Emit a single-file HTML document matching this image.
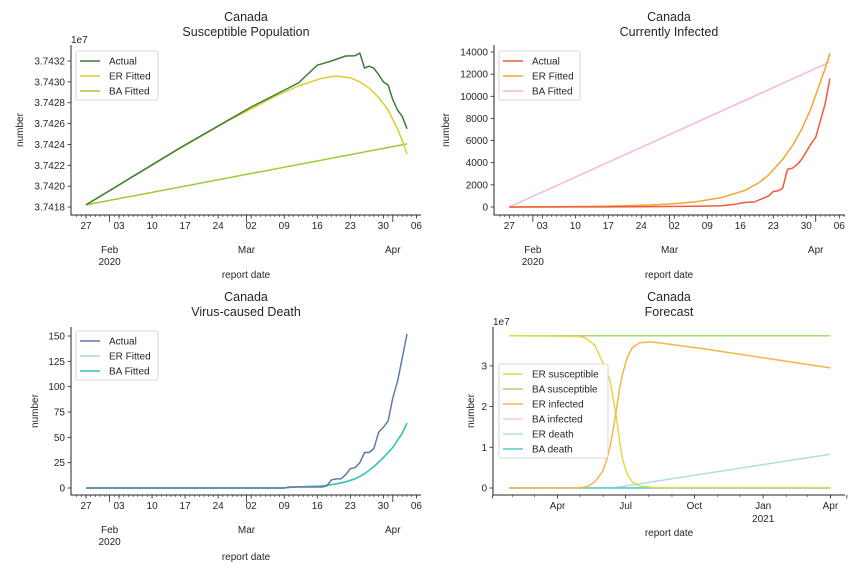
<!DOCTYPE html>
<html><head><meta charset="utf-8">
<style>
body{margin:0;background:#fff;}
svg{display:block;font-family:"Liberation Sans","DejaVu Sans",sans-serif;}
</style></head>
<body>
<svg id="fig" width="864" height="576" xmlns="http://www.w3.org/2000/svg"></svg>
<script>
// ---------- data (day index from 2020-01-27) ----------
const suscActualDays = [0,10,20,35,45,49,52,55,57,58,59,60,61,62,63,64,65,66,67,68];
const suscActual = [37418200,37420950,37423700,37427590,37429890,37431600,37432000,37432480,37432500,37432770,37431330,37431500,37431300,37430700,37430000,37429700,37428300,37427300,37426700,37425500];
const suscERDays = [0,10,20,30,35,40,45,50,53,56,58,60,62,64,66,67,68];
const suscER = [37418200,37420950,37423650,37426250,37427400,37428600,37429600,37430350,37430560,37430400,37430000,37429400,37428500,37427300,37425500,37424400,37423080];
const suscBADays = [0,68];
const suscBA = [37418200,37424050];

const infActualDays = [0,20,40,45,48,50,52,53,54,55,56,57,58,59,60,61,62,63,64,65,66,67,68];
const infActual = [0,10,60,120,250,420,450,650,800,1000,1400,1450,1700,3400,3500,3800,4300,5000,5700,6300,7800,9300,11600];
const infERDays = [0,10,20,30,35,40,45,50,53,55,58,60,62,64,66,67,68];
const infER = [0,20,60,180,300,500,850,1500,2200,2900,4300,5500,7000,8900,11300,12500,13900];
const infBADays = [0,68];
const infBA = [0,13100];

const deathActualDays = [0,42,43,50,51,52,53,54,55,56,57,58,59,60,61,62,63,64,65,66,67,68];
const deathActual = [0,0,1,1,2,8,9,9,13,19,20,25,35,35,39,55,60,66,89,105,128,152];
const deathERDays = [0,42,44,50,53,55,57,59,61,63,65,67,68];
const deathER = [0,0,1,2,4,6,9,14,21,30,40,54,64];
const deathBADays = deathERDays;
const deathBA = [0,0,1,2,4,6,9,14,21,30,40,54,64];

// forecast values in millions
const fcDays = [0,90,100,105,115,125,131,135,140,144,148,152,158,165,175,190,200,260,340,430];
const fcERSusc = [37.4,37.3,37.0,36.5,35.0,31.0,28.3,26.5,21.5,17.0,11.5,7.0,3.5,1.5,0.5,0.2,0.1,0.1,0.1,0.1];
const fcERInf = [0,0.05,0.2,0.4,1.5,4.0,7.0,10.0,15.0,19.5,24.5,28.0,32.0,34.5,35.7,35.9,35.7,34.2,32.0,29.5];
const fcERDeathDays = [0,140,430];
const fcERDeath = [0,0.05,8.3];
const fcFlatDays = [0,430];
const fcBASusc = [37.4,37.4];
const fcBAInf = [0.05,0.05];
const fcBADeath = [0,0];

const yTicks1 = [37418000,37420000,37422000,37424000,37426000,37428000,37430000,37432000];
const yTickLabels1 = ["3.7418","3.7420","3.7422","3.7424","3.7426","3.7428","3.7430","3.7432"];
const yTicks2 = [0,2000,4000,6000,8000,10000,12000,14000];
const yTicks3 = [0,25,50,75,100,125,150];
const yTicks4 = [0,10,20,30];
const yTickLabels4 = ["0","1","2","3"];
const weekDays = [0,7,14,21,28,35,42,49,56,63,70];
const weekLabels = ["27","03","10","17","24","02","09","16","23","30","06"];
const monthDays = [5,34,65];
const monthLabels = ["Feb","Mar","Apr"];
const fcMonthDays = [65,156,248,340,430];
const fcMonthLabels = ["Apr","Jul","Oct","Jan","Apr"];
const fcAllMonthDays = [5,34,65,95,126,156,187,218,248,279,309,340,371,399,430];

// ---------- drawing ----------
const NS="http://www.w3.org/2000/svg";
const fig=document.getElementById('fig');
function el(tag,attrs,parent){const e=document.createElementNS(NS,tag);for(const k in attrs)e.setAttribute(k,attrs[k]);(parent||fig).appendChild(e);return e;}
function txt(x,y,s,size,anchor,parent,extra){const t=el('text',Object.assign({x:x,y:y,'font-size':size,'text-anchor':anchor||'middle',fill:'#262626'},extra||{}),parent);t.textContent=s;return t;}

function panel(cfg){
  const g=el('g',{});
  
  
  const X=d=>cfg.x0+d*cfg.dx;
  const Y=v=>cfg.y0-(v-cfg.v0)*cfg.dy;
  const t1=txt(cfg.cx,21+cfg.oy,"Canada",12.5,'middle',g);
  
  const t2=txt(cfg.cx,36+cfg.oy,cfg.title,12.5,'middle',g);
  
  const sp=el('path',{d:`M${cfg.L},${cfg.T}V${cfg.B}H${cfg.R}`,stroke:'#262626','stroke-width':1,fill:'none'},g);
  
  cfg.yTicks.forEach((v,i)=>{
    const y=Y(v);
    el('line',{x1:cfg.L-3.5,x2:cfg.L,y1:y,y2:y,stroke:'#262626','stroke-width':0.8},g);
    const lb=txt(cfg.L-6,y+3.5,cfg.yLabels?cfg.yLabels[i]:String(v),10,'end',g);
    
  });
  if(cfg.exp){const e=txt(cfg.L,cfg.T-2,"1e7",10,'start',g);}
  const yl=txt(0,0,"number",10,'middle',g,{transform:`translate(${cfg.ylx},${(cfg.T+cfg.B)/2}) rotate(-90)`});
  
  cfg.xticks(g,X);
  const xl=txt(cfg.cx,cfg.xly,"report date",10,'middle',g);
  
  cfg.series.forEach(s=>{
    const pts=s.days.map((d,i)=>X(d).toFixed(1)+','+Y(s.vals[i]).toFixed(1)).join(' ');
    const p=el('polyline',{points:pts,fill:'none',stroke:s.color,'stroke-width':1.5,'stroke-linejoin':'round'},g);
    
    
  });
  const lg=el('g',{},g);
  
  
  const h=cfg.legend.length*15+4;
  el('rect',{x:cfg.lx,y:cfg.ly,width:cfg.lw,height:h,rx:2,fill:'#fff','fill-opacity':0.8,stroke:'#ccc','stroke-width':0.8},lg);
  cfg.legend.forEach((l,i)=>{
    const yy=cfg.ly+10+i*15;
    const e=el('g',{},lg);
    
    
    el('line',{x1:cfg.lx+4,x2:cfg.lx+24,y1:yy,y2:yy,stroke:l[1],'stroke-width':1.5},e);
    txt(cfg.lx+33,yy+3.5,l[0],10,'start',e);
  });
}

function dateTicks(cfg){
  return function(g,X){
    for(let d=-2;d<=71;d++){
      const x=X(d);if(x<cfg.L+1||x>cfg.R)continue;
      el('line',{x1:x,x2:x,y1:cfg.B,y2:cfg.B+2,stroke:'#262626','stroke-width':0.6},g);
    }
    weekDays.forEach((d,i)=>{const x=X(d);
      el('line',{x1:x,x2:x,y1:cfg.B,y2:cfg.B+3.5,stroke:'#262626','stroke-width':0.8},g);
      const lb=txt(x,cfg.B+14,weekLabels[i],10,'middle',g);
      });
    monthDays.forEach((d,i)=>{const x=X(d);
      el('line',{x1:x,x2:x,y1:cfg.B,y2:cfg.B+7,stroke:'#262626','stroke-width':0.8},g);
      const lb=txt(x,cfg.B+38,monthLabels[i],10,'middle',g);
      });
    const yr=txt(X(monthDays[0]),cfg.B+50,"2020",10,'middle',g);
    
  };
}

const c1={name:'susceptible-chart',title:'Susceptible Population',oy:0,cx:246,L:71,R:421,T:45,B:215,x0:86,dx:4.72,y0:61,v0:37432000,dy:20.86/2000,
  yTicks:yTicks1,yLabels:yTickLabels1,exp:true,ylx:23,xly:278,lx:76,ly:51,lw:82,
  legend:[["Actual","#3a7d3a"],["ER Fitted","#dccf2a"],["BA Fitted","#9acd32"]],
  series:[{name:'ba-fitted-line',days:suscBADays,vals:suscBA,color:'#9acd32'},{name:'er-fitted-line',days:suscERDays,vals:suscER,color:'#dccf2a'},{name:'actual-line',days:suscActualDays,vals:suscActual,color:'#3a7d3a'}]};
c1.xticks=dateTicks(c1);panel(c1);

const c2={name:'infected-chart',title:'Currently Infected',oy:0,cx:669,L:494,R:845,T:45,B:215,x0:509.3,dx:4.714,y0:207,v0:0,dy:11.07/1000,
  yTicks:yTicks2,ylx:449,xly:278,lx:499,ly:51,lw:81,
  legend:[["Actual","#f05a3c"],["ER Fitted","#f7a530"],["BA Fitted","#f9b4df"]],
  series:[{name:'ba-fitted-line',days:infBADays,vals:infBA,color:'#f9b4df'},{name:'er-fitted-line',days:infERDays,vals:infER,color:'#f7a530'},{name:'actual-line',days:infActualDays,vals:infActual,color:'#f05a3c'}]};
c2.xticks=dateTicks(c2);panel(c2);

const c3={name:'death-chart',title:'Virus-caused Death',oy:280,cx:246,L:71,R:421,T:327,B:495,x0:86,dx:4.72,y0:488,v0:0,dy:152/150,
  yTicks:yTicks3,ylx:38,xly:560,lx:76,ly:331,lw:82,
  legend:[["Actual","#5f7ba6"],["ER Fitted","#a8dadc"],["BA Fitted","#2ec4b6"]],
  series:[{name:'er-fitted-line',days:deathERDays,vals:deathER,color:'#a8dadc'},{name:'ba-fitted-line',days:deathBADays,vals:deathBA,color:'#2ec4b6'},{name:'actual-line',days:deathActualDays,vals:deathActual,color:'#5f7ba6'}]};
c3.xticks=dateTicks(c3);panel(c3);

const c4={name:'forecast-chart',title:'Forecast',oy:280,cx:669,L:493,R:845,T:327,B:495,x0:509,dx:0.7475,y0:488,v0:0,dy:4.07,
  yTicks:yTicks4,yLabels:yTickLabels4,exp:true,ylx:474,xly:536,lx:499,ly:364,lw:109,
  legend:[["ER susceptible","#e2d84a"],["BA susceptible","#a9d86e"],["ER infected","#f9b44a"],["BA infected","#f9c6e6"],["ER death","#b0dde0"],["BA death","#4fd0c4"]],
  series:[{name:'er-death-line',days:fcERDeathDays,vals:fcERDeath,color:'#b0dde0'},{name:'ba-infected-line',days:fcFlatDays,vals:fcBAInf,color:'#f9c6e6'},{name:'ba-death-line',days:fcFlatDays,vals:fcBADeath,color:'#4fd0c4'},{name:'ba-susceptible-line',days:fcFlatDays,vals:fcBASusc,color:'#a9d86e'},{name:'er-susceptible-line',days:fcDays,vals:fcERSusc,color:'#e2d84a'},{name:'er-infected-line',days:fcDays,vals:fcERInf,color:'#f9b44a'}]};
c4.xticks=function(g,X){
  fcAllMonthDays.forEach(d=>{const x=X(d);el('line',{x1:x,x2:x,y1:c4.B,y2:c4.B+2,stroke:'#262626','stroke-width':0.6},g);});
  [X(-22),X(452)].forEach(x=>el('line',{x1:x,x2:x,y1:c4.B,y2:c4.B+3.5,stroke:'#262626','stroke-width':0.8},g));
  fcMonthDays.forEach((d,i)=>{const x=X(d);
    el('line',{x1:x,x2:x,y1:c4.B,y2:c4.B+3.5,stroke:'#262626','stroke-width':0.8},g);
    const lb=txt(x,c4.B+14,fcMonthLabels[i],10,'middle',g);
    });
  const yr=txt(X(340),c4.B+27,"2021",10,'middle',g);
  
};
panel(c4);
</script>
</body></html>
